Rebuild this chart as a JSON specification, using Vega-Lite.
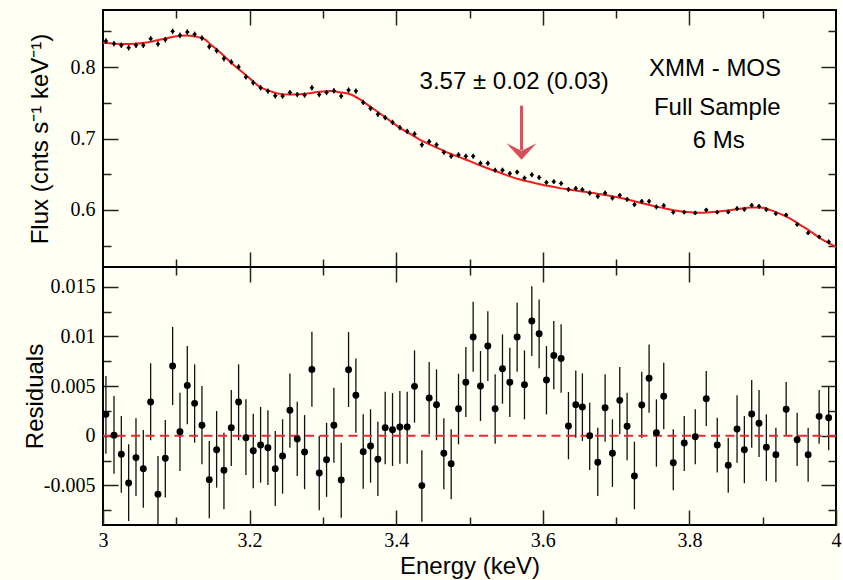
{
  "$schema": "https://vega.github.io/schema/vega-lite/v6.json",
  "background": "#fffff4",
  "padding": {"left": 22, "top": 8, "right": 0, "bottom": 0},
  "spacing": 0,
  "bounds": "flush",
  "config": {
    "view": {"stroke": "#000", "strokeWidth": 2},
    "concat": {"spacing": 0},
    "axis": {
      "domain": false, "grid": false, "tickColor": "#222", "tickWidth": 1.5,
      "labelFont": "Liberation Serif", "labelFontSize": 20, "labelColor": "#000",
      "titleFont": "Liberation Sans", "titleFontSize": 24, "titleFontWeight": "normal", "titleColor": "#000",
      "labelFlush": false, "labelOverlap": false
    }
  },
  "datasets": {
    "flux": [
      {"e":3.004,"f":0.8365,"fe":0.0039},{"e":3.015,"f":0.8328,"fe":0.0039},{"e":3.025,"f":0.8305,"fe":0.0039},{"e":3.035,"f":0.8272,"fe":0.0039},
      {"e":3.045,"f":0.8305,"fe":0.0039},{"e":3.055,"f":0.8305,"fe":0.0039},{"e":3.065,"f":0.8398,"fe":0.0039},{"e":3.075,"f":0.8324,"fe":0.0039},
      {"e":3.085,"f":0.8384,"fe":0.0039},{"e":3.095,"f":0.8501,"fe":0.0039},{"e":3.105,"f":0.8445,"fe":0.0039},{"e":3.115,"f":0.8491,"fe":0.0039},
      {"e":3.125,"f":0.8459,"fe":0.0039},{"e":3.135,"f":0.8407,"fe":0.0039},{"e":3.145,"f":0.8286,"fe":0.0039},{"e":3.155,"f":0.8230,"fe":0.0039},
      {"e":3.165,"f":0.8119,"fe":0.0039},{"e":3.175,"f":0.8073,"fe":0.0038},{"e":3.185,"f":0.8003,"fe":0.0038},{"e":3.195,"f":0.7863,"fe":0.0038},
      {"e":3.205,"f":0.7780,"fe":0.0038},{"e":3.215,"f":0.7710,"fe":0.0038},{"e":3.225,"f":0.7664,"fe":0.0038},{"e":3.235,"f":0.7598,"fe":0.0038},
      {"e":3.245,"f":0.7594,"fe":0.0037},{"e":3.255,"f":0.7644,"fe":0.0037},{"e":3.265,"f":0.7616,"fe":0.0037},{"e":3.275,"f":0.7608,"fe":0.0037},
      {"e":3.285,"f":0.7710,"fe":0.0038},{"e":3.295,"f":0.7616,"fe":0.0037},{"e":3.305,"f":0.7644,"fe":0.0037},{"e":3.315,"f":0.7668,"fe":0.0038},
      {"e":3.325,"f":0.7594,"fe":0.0038},{"e":3.335,"f":0.7678,"fe":0.0038},{"e":3.345,"f":0.7664,"fe":0.0037},{"e":3.355,"f":0.7505,"fe":0.0037},
      {"e":3.365,"f":0.7421,"fe":0.0037},{"e":3.375,"f":0.7338,"fe":0.0037},{"e":3.385,"f":0.7292,"fe":0.0037},{"e":3.395,"f":0.7226,"fe":0.0037},
      {"e":3.405,"f":0.7152,"fe":0.0037},{"e":3.415,"f":0.7100,"fe":0.0036},{"e":3.425,"f":0.7064,"fe":0.0036},{"e":3.435,"f":0.6911,"fe":0.0036},
      {"e":3.445,"f":0.6957,"fe":0.0036},{"e":3.455,"f":0.6911,"fe":0.0036},{"e":3.465,"f":0.6808,"fe":0.0036},{"e":3.475,"f":0.6752,"fe":0.0035},
      {"e":3.485,"f":0.6771,"fe":0.0036},{"e":3.495,"f":0.6752,"fe":0.0035},{"e":3.505,"f":0.6752,"fe":0.0035},{"e":3.515,"f":0.6654,"fe":0.0035},
      {"e":3.525,"f":0.6654,"fe":0.0035},{"e":3.535,"f":0.6557,"fe":0.0035},{"e":3.545,"f":0.6557,"fe":0.0035},{"e":3.555,"f":0.6510,"fe":0.0035},
      {"e":3.565,"f":0.6529,"fe":0.0035},{"e":3.575,"f":0.6445,"fe":0.0035},{"e":3.585,"f":0.6492,"fe":0.0035},{"e":3.595,"f":0.6455,"fe":0.0035},
      {"e":3.605,"f":0.6385,"fe":0.0034},{"e":3.615,"f":0.6395,"fe":0.0034},{"e":3.625,"f":0.6371,"fe":0.0034},{"e":3.635,"f":0.6287,"fe":0.0034},
      {"e":3.645,"f":0.6301,"fe":0.0034},{"e":3.654,"f":0.6283,"fe":0.0034},{"e":3.664,"f":0.6236,"fe":0.0034},{"e":3.675,"f":0.6190,"fe":0.0034},
      {"e":3.685,"f":0.6236,"fe":0.0034},{"e":3.695,"f":0.6166,"fe":0.0034},{"e":3.705,"f":0.6204,"fe":0.0034},{"e":3.715,"f":0.6148,"fe":0.0034},
      {"e":3.725,"f":0.6074,"fe":0.0034},{"e":3.735,"f":0.6120,"fe":0.0034},{"e":3.745,"f":0.6120,"fe":0.0034},{"e":3.755,"f":0.6041,"fe":0.0034},
      {"e":3.765,"f":0.6060,"fe":0.0034},{"e":3.778,"f":0.5967,"fe":0.0031},{"e":3.793,"f":0.5967,"fe":0.0028},{"e":3.808,"f":0.5957,"fe":0.0028},
      {"e":3.823,"f":0.5999,"fe":0.0028},{"e":3.838,"f":0.5967,"fe":0.0028},{"e":3.853,"f":0.5971,"fe":0.0028},{"e":3.865,"f":0.6018,"fe":0.0034},
      {"e":3.875,"f":0.6008,"fe":0.0034},{"e":3.885,"f":0.6064,"fe":0.0034},{"e":3.895,"f":0.6050,"fe":0.0034},{"e":3.905,"f":0.6004,"fe":0.0034},
      {"e":3.918,"f":0.5948,"fe":0.0028},{"e":3.932,"f":0.5929,"fe":0.0027},{"e":3.947,"f":0.5795,"fe":0.0027},{"e":3.962,"f":0.5678,"fe":0.0027},
      {"e":3.977,"f":0.5622,"fe":0.0027},{"e":3.990,"f":0.5552,"fe":0.0032}
    ],
    "resid": [
      {"e":3.004,"r":0.00215,"lo":-0.00181,"hi":0.00601},{"e":3.015,"r":0.00004,"lo":-0.00383,"hi":0.0040},
      {"e":3.025,"r":-0.00187,"lo":-0.00574,"hi":0.00198},{"e":3.035,"r":-0.00476,"lo":-0.00859,"hi":-0.00087},
      {"e":3.045,"r":-0.00221,"lo":-0.00607,"hi":0.00175},{"e":3.055,"r":-0.00332,"lo":-0.00725,"hi":0.00057},
      {"e":3.065,"r":0.00339,"lo":-0.00046,"hi":0.00729},{"e":3.075,"r":-0.0059,"lo":-0.0098,"hi":-0.00204},
      {"e":3.085,"r":-0.00228,"lo":-0.00624,"hi":0.00158},{"e":3.095,"r":0.00702,"lo":0.00309,"hi":0.01097},
      {"e":3.105,"r":0.0004,"lo":-0.00355,"hi":0.00433},{"e":3.115,"r":0.00507,"lo":0.00115,"hi":0.00903},
      {"e":3.125,"r":0.00326,"lo":-0.0007,"hi":0.00719},{"e":3.135,"r":0.00105,"lo":-0.00288,"hi":0.005},
      {"e":3.145,"r":-0.00443,"lo":-0.00832,"hi":-0.00053},{"e":3.155,"r":-0.00141,"lo":-0.00524,"hi":0.00249},
      {"e":3.165,"r":-0.00348,"lo":-0.00741,"hi":0.0003},{"e":3.175,"r":0.00081,"lo":-0.00305,"hi":0.0046},
      {"e":3.185,"r":0.00339,"lo":-0.00046,"hi":0.00719},{"e":3.195,"r":-0.0002,"lo":-0.00396,"hi":0.00366},
      {"e":3.205,"r":-0.00151,"lo":-0.0053,"hi":0.00221},{"e":3.215,"r":-0.00094,"lo":-0.00473,"hi":0.00289},
      {"e":3.225,"r":-0.00121,"lo":-0.00496,"hi":0.00256},{"e":3.235,"r":-0.00332,"lo":-0.00708,"hi":0.00047},
      {"e":3.245,"r":-0.00204,"lo":-0.00584,"hi":0.00165},{"e":3.255,"r":0.00256,"lo":-0.00121,"hi":0.00628},
      {"e":3.265,"r":-0.00033,"lo":-0.00406,"hi":0.00342},{"e":3.275,"r":-0.00164,"lo":-0.0054,"hi":0.00208},
      {"e":3.285,"r":0.00668,"lo":0.00292,"hi":0.01047},{"e":3.295,"r":-0.00376,"lo":-0.00751,"hi":-0.00003},
      {"e":3.305,"r":-0.00242,"lo":-0.00617,"hi":0.00131},{"e":3.315,"r":0.00105,"lo":-0.00272,"hi":0.00483},
      {"e":3.325,"r":-0.00446,"lo":-0.00826,"hi":-0.0007},{"e":3.335,"r":0.00664,"lo":0.00289,"hi":0.01044},
      {"e":3.345,"r":0.00407,"lo":0.0003,"hi":0.00779},{"e":3.355,"r":-0.00161,"lo":-0.00534,"hi":0.00215},
      {"e":3.365,"r":-0.00104,"lo":-0.00473,"hi":0.00266},{"e":3.375,"r":-0.00238,"lo":-0.00607,"hi":0.00141},
      {"e":3.385,"r":0.00081,"lo":-0.00288,"hi":0.00443},{"e":3.395,"r":0.0006,"lo":-0.00305,"hi":0.0043},
      {"e":3.405,"r":0.00088,"lo":-0.00282,"hi":0.0045},{"e":3.415,"r":0.00088,"lo":-0.00282,"hi":0.00443},
      {"e":3.425,"r":0.00497,"lo":0.00131,"hi":0.0086},{"e":3.435,"r":-0.00503,"lo":-0.00866,"hi":-0.00147},
      {"e":3.445,"r":0.0038,"lo":0.00014,"hi":0.00742},{"e":3.455,"r":0.00312,"lo":-0.00046,"hi":0.00668},
      {"e":3.465,"r":-0.00177,"lo":-0.0054,"hi":0.00175},{"e":3.475,"r":-0.00282,"lo":-0.0064,"hi":0.00064},
      {"e":3.485,"r":0.00272,"lo":-0.00087,"hi":0.00624},{"e":3.495,"r":0.00538,"lo":0.00188,"hi":0.00893},
      {"e":3.505,"r":0.00994,"lo":0.00644,"hi":0.01349},{"e":3.515,"r":0.005,"lo":0.00148,"hi":0.00853},
      {"e":3.525,"r":0.00903,"lo":0.00551,"hi":0.01255},{"e":3.535,"r":0.00272,"lo":-0.00081,"hi":0.00618},
      {"e":3.545,"r":0.00675,"lo":0.00322,"hi":0.01021},{"e":3.555,"r":0.00538,"lo":0.00188,"hi":0.00886},
      {"e":3.565,"r":0.00994,"lo":0.00644,"hi":0.01339},{"e":3.575,"r":0.00513,"lo":0.00165,"hi":0.0086},
      {"e":3.585,"r":0.01155,"lo":0.00802,"hi":0.01507},{"e":3.595,"r":0.01027,"lo":0.00679,"hi":0.01373},
      {"e":3.605,"r":0.00561,"lo":0.00215,"hi":0.00903},{"e":3.615,"r":0.00809,"lo":0.00467,"hi":0.01155},
      {"e":3.625,"r":0.00779,"lo":0.00433,"hi":0.01122},{"e":3.635,"r":0.00098,"lo":-0.00238,"hi":0.0044},
      {"e":3.645,"r":0.00312,"lo":-0.0002,"hi":0.00658},{"e":3.654,"r":0.00289,"lo":-0.00053,"hi":0.00628},
      {"e":3.664,"r":0.0,"lo":-0.00345,"hi":0.00332},{"e":3.675,"r":-0.00268,"lo":-0.00607,"hi":0.00081},
      {"e":3.685,"r":0.00282,"lo":-0.0006,"hi":0.00618},{"e":3.695,"r":-0.00177,"lo":-0.00516,"hi":0.00165},
      {"e":3.705,"r":0.00356,"lo":0.00014,"hi":0.00692},{"e":3.715,"r":0.00095,"lo":-0.00248,"hi":0.00433},
      {"e":3.725,"r":-0.00406,"lo":-0.00741,"hi":-0.0006},{"e":3.735,"r":0.00309,"lo":-0.00023,"hi":0.00644},
      {"e":3.745,"r":0.00578,"lo":0.00232,"hi":0.0092},{"e":3.755,"r":0.0003,"lo":-0.00312,"hi":0.00366},
      {"e":3.765,"r":0.00397,"lo":0.00064,"hi":0.00735},{"e":3.778,"r":-0.00272,"lo":-0.0055,"hi":0.00064},
      {"e":3.793,"r":-0.00073,"lo":-0.00355,"hi":0.00198},{"e":3.808,"r":-0.0001,"lo":-0.00288,"hi":0.00266},
      {"e":3.823,"r":0.00372,"lo":0.00098,"hi":0.00651},{"e":3.838,"r":-0.00094,"lo":-0.00372,"hi":0.00181},
      {"e":3.853,"r":-0.00298,"lo":-0.00574,"hi":-0.0002},{"e":3.865,"r":0.00067,"lo":-0.00272,"hi":0.00407},
      {"e":3.875,"r":-0.00141,"lo":-0.00479,"hi":0.00198},{"e":3.885,"r":0.00218,"lo":-0.00121,"hi":0.00561},
      {"e":3.895,"r":0.00125,"lo":-0.00214,"hi":0.0046},{"e":3.905,"r":-0.00117,"lo":-0.00456,"hi":0.00215},
      {"e":3.918,"r":-0.00191,"lo":-0.00469,"hi":0.00081},{"e":3.932,"r":0.00266,"lo":-0.00003,"hi":0.00541},
      {"e":3.947,"r":-0.0004,"lo":-0.00305,"hi":0.00232},{"e":3.962,"r":-0.00191,"lo":-0.00463,"hi":0.00081},
      {"e":3.977,"r":0.00195,"lo":-0.00081,"hi":0.0046},{"e":3.990,"r":0.00181,"lo":-0.00147,"hi":0.005}
    ],
    "model": [
      {"e":3.000,"m":0.8340},{"e":3.016,"m":0.8328},{"e":3.030,"m":0.8322},{"e":3.044,"m":0.8326},{"e":3.057,"m":0.8340},
      {"e":3.071,"m":0.8368},{"e":3.085,"m":0.8400},{"e":3.098,"m":0.8428},{"e":3.112,"m":0.8442},{"e":3.126,"m":0.8428},
      {"e":3.139,"m":0.8390},{"e":3.146,"m":0.8325},{"e":3.160,"m":0.8205},{"e":3.173,"m":0.8080},{"e":3.187,"m":0.7955},
      {"e":3.201,"m":0.7835},{"e":3.214,"m":0.7722},{"e":3.228,"m":0.7664},{"e":3.241,"m":0.7625},{"e":3.255,"m":0.7616},
      {"e":3.269,"m":0.7620},{"e":3.282,"m":0.7635},{"e":3.296,"m":0.7655},{"e":3.310,"m":0.7664},{"e":3.323,"m":0.7648},
      {"e":3.337,"m":0.7620},{"e":3.351,"m":0.7545},{"e":3.364,"m":0.7450},{"e":3.378,"m":0.7350},{"e":3.392,"m":0.7245},
      {"e":3.405,"m":0.7150},{"e":3.419,"m":0.7065},{"e":3.432,"m":0.6985},{"e":3.446,"m":0.6915},{"e":3.460,"m":0.6850},
      {"e":3.473,"m":0.6790},{"e":3.487,"m":0.6735},{"e":3.501,"m":0.6680},{"e":3.514,"m":0.6625},{"e":3.528,"m":0.6570},
      {"e":3.542,"m":0.6520},{"e":3.555,"m":0.6470},{"e":3.569,"m":0.6425},{"e":3.583,"m":0.6390},{"e":3.596,"m":0.6360},
      {"e":3.610,"m":0.6330},{"e":3.623,"m":0.6305},{"e":3.637,"m":0.6283},{"e":3.651,"m":0.6262},{"e":3.678,"m":0.6220},
      {"e":3.705,"m":0.6170},{"e":3.733,"m":0.6100},{"e":3.760,"m":0.6035},{"e":3.787,"m":0.5980},{"e":3.814,"m":0.5960},
      {"e":3.842,"m":0.5980},{"e":3.869,"m":0.6015},{"e":3.883,"m":0.6035},{"e":3.896,"m":0.6035},{"e":3.910,"m":0.6000},
      {"e":3.924,"m":0.5945},{"e":3.937,"m":0.5880},{"e":3.951,"m":0.5790},{"e":3.965,"m":0.5700},{"e":3.978,"m":0.5605},
      {"e":3.992,"m":0.5525},{"e":4.000,"m":0.5480}
    ],
    "arrow": [{"e":3.571,"top":0.746,"bot":0.684,"head":0.6817}],
    "notes": [
      {"e":3.561,"y":0.7692,"t":"3.57 ± 0.02 (0.03)"},
      {"e":3.835,"y":0.7877,"t":"XMM - MOS"},
      {"e":3.838,"y":0.7329,"t":"Full Sample"},
      {"e":3.840,"y":0.6873,"t":"6 Ms"}
    ]
  },
  "vconcat": [
    {
      "width": 733, "height": 257,
      "layer": [
        {
          "data": {"name": "model"},
          "mark": {"type": "line", "color": "#f01e1e", "strokeWidth": 2, "interpolate": "monotone"},
          "encoding": {
            "x": {"field": "e", "type": "quantitative", "scale": {"domain": [3, 4], "nice": false, "zero": false},
              "axis": {"orient": "bottom", "values": [3.1,3.2,3.3,3.4,3.5,3.6,3.7,3.8,3.9], "labels": false, "title": null,
                "tickSize": {"condition": {"test": "abs(datum.value*5-round(datum.value*5))<0.001", "value": -15}, "value": -8}}},
            "y": {"field": "m", "type": "quantitative", "scale": {"domain": [0.52, 0.88], "nice": false, "zero": false},
              "axis": {"orient": "left", "values": [0.55,0.6,0.65,0.7,0.75,0.8,0.85], "format": "~g",
                "labelExpr": "abs(datum.value*10-round(datum.value*10))<0.001 ? datum.label : ''",
                "labelPadding": 23, "title": "Flux (cnts s⁻¹ keV⁻¹)", "titlePadding": 18,
                "tickSize": {"condition": {"test": "abs(datum.value*10-round(datum.value*10))<0.001", "value": -15}, "value": -8}}}
          }
        },
        {
          "data": {"name": "flux"},
          "mark": {"type": "errorbar", "ticks": false, "color": "#111", "thickness": 1.3},
          "encoding": {
            "x": {"field": "e", "type": "quantitative", "scale": {"domain": [3, 4], "nice": false, "zero": false}, "axis": null},
            "y": {"field": "f", "type": "quantitative", "scale": {"domain": [0.52, 0.88], "nice": false, "zero": false}, "axis": null},
            "yError": {"field": "fe"}
          }
        },
        {
          "data": {"name": "flux"},
          "mark": {"type": "point", "shape": "diamond", "filled": true, "size": 22, "color": "#000", "opacity": 1},
          "encoding": {
            "x": {"field": "e", "type": "quantitative", "scale": {"domain": [3, 4], "nice": false, "zero": false},
              "axis": {"orient": "top", "values": [3.1,3.2,3.3,3.4,3.5,3.6,3.7,3.8,3.9], "labels": false, "title": null,
                "tickSize": {"condition": {"test": "abs(datum.value*5-round(datum.value*5))<0.001", "value": -15}, "value": -8}}},
            "y": {"field": "f", "type": "quantitative", "scale": {"domain": [0.52, 0.88], "nice": false, "zero": false},
              "axis": {"orient": "right", "values": [0.55,0.6,0.65,0.7,0.75,0.8,0.85], "labels": false, "title": null,
                "tickSize": {"condition": {"test": "abs(datum.value*10-round(datum.value*10))<0.001", "value": -15}, "value": -8}}}
          }
        },
        {
          "data": {"name": "arrow"},
          "mark": {"type": "rule", "color": "#d5505a", "strokeWidth": 3},
          "encoding": {
            "x": {"field": "e", "type": "quantitative", "scale": {"domain": [3, 4], "nice": false, "zero": false}, "axis": null},
            "y": {"field": "top", "type": "quantitative", "scale": {"domain": [0.52, 0.88], "nice": false, "zero": false}, "axis": null},
            "y2": {"field": "bot"}
          }
        },
        {
          "data": {"name": "arrow"},
          "mark": {"type": "point", "shape": "M0,0.55L-1,-0.55L0,-0.05L1,-0.55Z", "filled": true, "size": 900, "color": "#d5505a", "opacity": 1, "strokeWidth": 0},
          "encoding": {
            "x": {"field": "e", "type": "quantitative", "scale": {"domain": [3, 4], "nice": false, "zero": false}, "axis": null},
            "y": {"field": "head", "type": "quantitative", "scale": {"domain": [0.52, 0.88], "nice": false, "zero": false}, "axis": null}
          }
        },
        {
          "data": {"name": "notes"},
          "mark": {"type": "text", "font": "Liberation Sans", "fontSize": 24, "align": "center", "baseline": "alphabetic", "color": "#000"},
          "encoding": {
            "x": {"field": "e", "type": "quantitative", "scale": {"domain": [3, 4], "nice": false, "zero": false}, "axis": null},
            "y": {"field": "y", "type": "quantitative", "scale": {"domain": [0.52, 0.88], "nice": false, "zero": false}, "axis": null},
            "text": {"field": "t"}
          }
        }
      ],
      "resolve": {"axis": {"x": "independent", "y": "independent"}}
    },
    {
      "width": 733, "height": 258,
      "layer": [
        {
          "data": {"name": "resid"},
          "mark": {"type": "rule", "color": "#111", "strokeWidth": 1.3, "clip": true},
          "encoding": {
            "x": {"field": "e", "type": "quantitative", "scale": {"domain": [3, 4], "nice": false, "zero": false},
              "axis": {"orient": "bottom", "values": [3,3.1,3.2,3.3,3.4,3.5,3.6,3.7,3.8,3.9,4], "format": "~g",
                "labelExpr": "abs(datum.value*5-round(datum.value*5))<0.001 ? datum.label : ''",
                "labelPadding": 20.5, "title": "Energy (keV)", "titlePadding": -3,
                "tickSize": {"condition": {"test": "abs(datum.value*5-round(datum.value*5))<0.001", "value": -15}, "value": -8}}},
            "y": {"field": "lo", "type": "quantitative", "scale": {"domain": [-0.009, 0.017], "nice": false, "zero": false},
              "axis": {"orient": "left", "values": [-0.0075,-0.005,-0.0025,0,0.0025,0.005,0.0075,0.01,0.0125,0.015], "format": "~g",
                "labelExpr": "abs(datum.value*200-round(datum.value*200))<0.001 ? replace(datum.label, '−', '-') : ''",
                "labelPadding": 23, "title": "Residuals", "titlePadding": -4,
                "tickSize": {"condition": {"test": "abs(datum.value*200-round(datum.value*200))<0.001", "value": -15}, "value": -8}}},
            "y2": {"field": "hi"}
          }
        },
        {
          "data": {"values": [{}]},
          "mark": {"type": "rule", "color": "#ec2a2a", "strokeWidth": 2, "strokeDash": [9, 5.5]},
          "encoding": {
            "y": {"datum": 0, "type": "quantitative", "scale": {"domain": [-0.009, 0.017], "nice": false, "zero": false}, "axis": null}
          }
        },
        {
          "data": {"name": "resid"},
          "mark": {"type": "point", "shape": "circle", "filled": true, "size": 48, "color": "#000", "opacity": 1},
          "encoding": {
            "x": {"field": "e", "type": "quantitative", "scale": {"domain": [3, 4], "nice": false, "zero": false},
              "axis": {"orient": "top", "values": [3.1,3.2,3.3,3.4,3.5,3.6,3.7,3.8,3.9], "labels": false, "title": null,
                "tickSize": {"condition": {"test": "abs(datum.value*5-round(datum.value*5))<0.001", "value": -15}, "value": -8}}},
            "y": {"field": "r", "type": "quantitative", "scale": {"domain": [-0.009, 0.017], "nice": false, "zero": false},
              "axis": {"orient": "right", "values": [-0.0075,-0.005,-0.0025,0,0.0025,0.005,0.0075,0.01,0.0125,0.015], "labels": false, "title": null,
                "tickSize": {"condition": {"test": "abs(datum.value*200-round(datum.value*200))<0.001", "value": -15}, "value": -8}}}
          }
        }
      ],
      "resolve": {"axis": {"x": "independent", "y": "independent"}}
    }
  ]
}
